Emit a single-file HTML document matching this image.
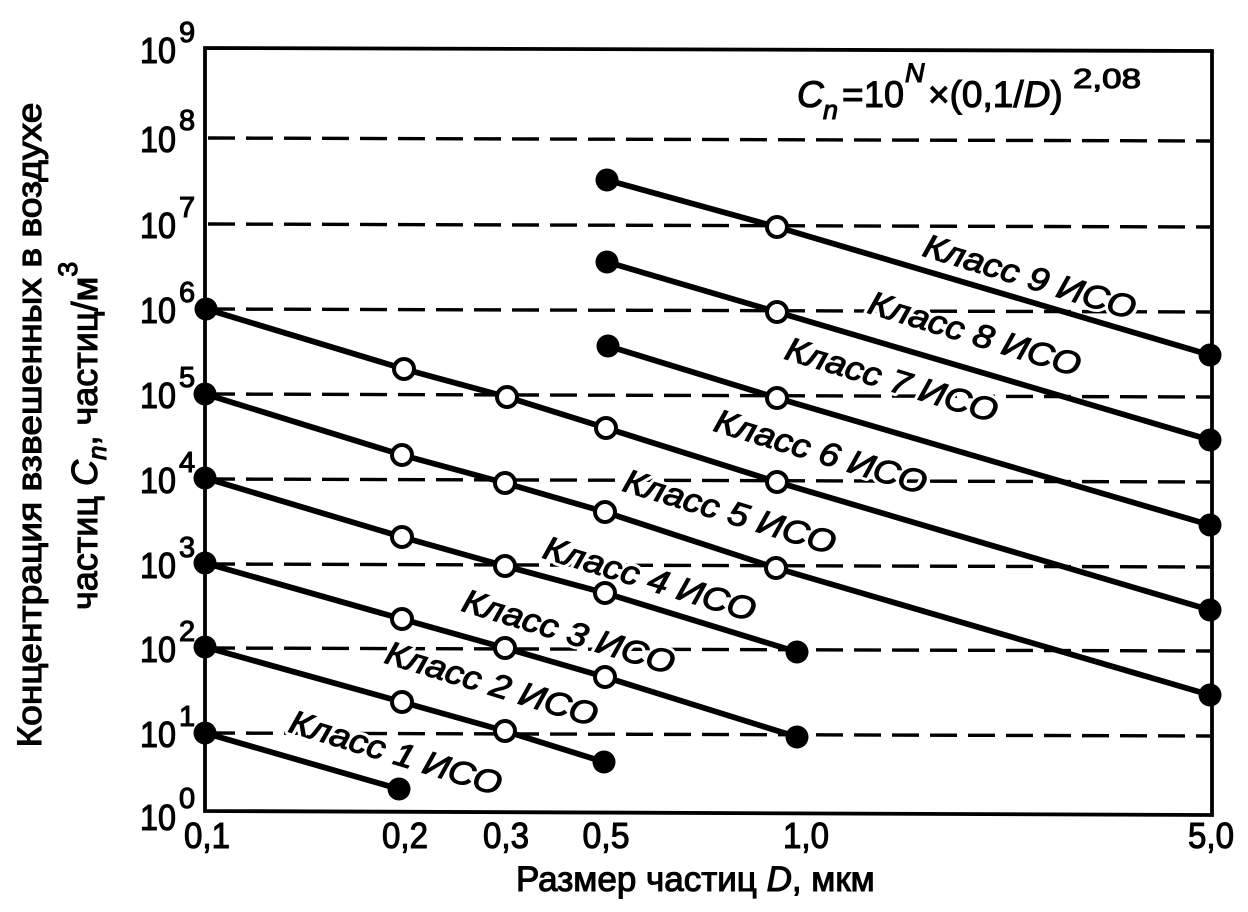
<!DOCTYPE html>
<html>
<head>
<meta charset="utf-8">
<style>
  html, body { margin:0; padding:0; background:#fff; }
  svg { display:block; }
  text { font-family: "Liberation Sans", "DejaVu Sans", sans-serif; fill:#000; }
  .bk { stroke:#000; stroke-width:1.1; }
</style>
</head>
<body>
<svg width="1248" height="912" viewBox="0 0 1248 912" xmlns="http://www.w3.org/2000/svg">
  <rect x="0" y="0" width="1248" height="912" fill="#fff"/>

  <!-- dashed gridlines -->
  <g stroke="#000" stroke-width="3.4" stroke-dasharray="27 11" fill="none">
    <line x1="208" y1="138" x2="1210" y2="141"/>
    <line x1="208" y1="224" x2="1210" y2="227"/>
    <line x1="208" y1="309" x2="1210" y2="312"/>
    <line x1="208" y1="394" x2="1210" y2="397"/>
    <line x1="208" y1="479" x2="1210" y2="482"/>
    <line x1="208" y1="564" x2="1210" y2="567"/>
    <line x1="208" y1="648" x2="1210" y2="651"/>
    <line x1="208" y1="733" x2="1210" y2="736"/>
  </g>

  <!-- axis box -->
  <path d="M205,48 L1212,51 L1212,815 L205,811 Z" fill="none" stroke="#000" stroke-width="3.8"/>

  <!-- class labels: white halo layer -->
  <g font-style="italic" font-size="33" text-anchor="middle" stroke="#fff" stroke-width="7" fill="#fff" stroke-linejoin="round">
    <text transform="translate(1030,276) rotate(17)" dy="12" textLength="220" lengthAdjust="spacingAndGlyphs" style="fill:#fff">Класс 9 ИСО</text>
    <text transform="translate(975,333) rotate(17)" dy="12" textLength="220" lengthAdjust="spacingAndGlyphs" style="fill:#fff">Класс 8 ИСО</text>
    <text transform="translate(892,379) rotate(17)" dy="12" textLength="220" lengthAdjust="spacingAndGlyphs" style="fill:#fff">Класс 7 ИСО</text>
    <text transform="translate(821,451) rotate(17)" dy="12" textLength="220" lengthAdjust="spacingAndGlyphs" style="fill:#fff">Класс 6 ИСО</text>
    <text transform="translate(730,511) rotate(17)" dy="12" textLength="220" lengthAdjust="spacingAndGlyphs" style="fill:#fff">Класс 5 ИСО</text>
    <text transform="translate(650,578) rotate(17)" dy="12" textLength="220" lengthAdjust="spacingAndGlyphs" style="fill:#fff">Класс 4 ИСО</text>
    <text transform="translate(569,631) rotate(17)" dy="12" textLength="220" lengthAdjust="spacingAndGlyphs" style="fill:#fff">Класс 3 ИСО</text>
    <text transform="translate(492,683) rotate(17)" dy="12" textLength="220" lengthAdjust="spacingAndGlyphs" style="fill:#fff">Класс 2 ИСО</text>
    <text transform="translate(396,752) rotate(17)" dy="12" textLength="220" lengthAdjust="spacingAndGlyphs" style="fill:#fff">Класс 1 ИСО</text>
  </g>
  <!-- class labels: black text -->
  <g font-style="italic" font-size="33" text-anchor="middle" class="bk">
    <text transform="translate(1030,276) rotate(17)" dy="12" textLength="220" lengthAdjust="spacingAndGlyphs">Класс 9 ИСО</text>
    <text transform="translate(975,333) rotate(17)" dy="12" textLength="220" lengthAdjust="spacingAndGlyphs">Класс 8 ИСО</text>
    <text transform="translate(892,379) rotate(17)" dy="12" textLength="220" lengthAdjust="spacingAndGlyphs">Класс 7 ИСО</text>
    <text transform="translate(821,451) rotate(17)" dy="12" textLength="220" lengthAdjust="spacingAndGlyphs">Класс 6 ИСО</text>
    <text transform="translate(730,511) rotate(17)" dy="12" textLength="220" lengthAdjust="spacingAndGlyphs">Класс 5 ИСО</text>
    <text transform="translate(650,578) rotate(17)" dy="12" textLength="220" lengthAdjust="spacingAndGlyphs">Класс 4 ИСО</text>
    <text transform="translate(569,631) rotate(17)" dy="12" textLength="220" lengthAdjust="spacingAndGlyphs">Класс 3 ИСО</text>
    <text transform="translate(492,683) rotate(17)" dy="12" textLength="220" lengthAdjust="spacingAndGlyphs">Класс 2 ИСО</text>
    <text transform="translate(396,752) rotate(17)" dy="12" textLength="220" lengthAdjust="spacingAndGlyphs">Класс 1 ИСО</text>
  </g>

  <!-- data lines -->
  <g stroke="#000" stroke-width="5.8" fill="none" stroke-linejoin="round" stroke-linecap="round">
    <polyline points="205,733 399,789"/>
    <polyline points="205,647 402,702 505,731 604,762"/>
    <polyline points="205,563 402,619 505,648 605,677 797,737"/>
    <polyline points="205,478 402,537 505,566 605,593 797,652"/>
    <polyline points="205,394 402,455 505,483 605,512 776,568 1210,695"/>
    <polyline points="206,309 404,369 507,397 606,428 777,482 1210,610"/>
    <polyline points="608,346 777,398 1210,525"/>
    <polyline points="607,262 777,312 1210,440"/>
    <polyline points="607,180 777,227 1210,355"/>
  </g>

  <!-- filled markers -->
  <g fill="#000">
    <circle cx="205" cy="733" r="11.5"/><circle cx="399" cy="789" r="11.5"/>
    <circle cx="205" cy="647" r="11.5"/><circle cx="604" cy="762" r="11.5"/>
    <circle cx="205" cy="563" r="11.5"/><circle cx="797" cy="737" r="11.5"/>
    <circle cx="205" cy="478" r="11.5"/><circle cx="797" cy="652" r="11.5"/>
    <circle cx="205" cy="394" r="11.5"/><circle cx="1210" cy="695" r="11.5"/>
    <circle cx="206" cy="309" r="11.5"/><circle cx="1210" cy="610" r="11.5"/>
    <circle cx="608" cy="346" r="11.5"/><circle cx="1210" cy="525" r="11.5"/>
    <circle cx="607" cy="262" r="11.5"/><circle cx="1210" cy="440" r="11.5"/>
    <circle cx="607" cy="180" r="11.5"/><circle cx="1210" cy="355" r="11.5"/>
  </g>

  <!-- open markers -->
  <g fill="#fff" stroke="#000" stroke-width="4">
    <circle cx="402" cy="702" r="10"/><circle cx="505" cy="731" r="10"/>
    <circle cx="402" cy="619" r="10"/><circle cx="505" cy="648" r="10"/><circle cx="605" cy="677" r="10"/>
    <circle cx="402" cy="537" r="10"/><circle cx="505" cy="566" r="10"/><circle cx="605" cy="593" r="10"/>
    <circle cx="402" cy="455" r="10"/><circle cx="505" cy="483" r="10"/><circle cx="605" cy="512" r="10"/><circle cx="776" cy="568" r="10"/>
    <circle cx="404" cy="369" r="10"/><circle cx="507" cy="397" r="10"/><circle cx="606" cy="428" r="10"/><circle cx="777" cy="482" r="10"/>
    <circle cx="777" cy="398" r="10"/>
    <circle cx="777" cy="312" r="10"/>
    <circle cx="777" cy="227" r="10"/>
  </g>

  <!-- formula -->
  <g font-size="37" class="bk">
    <text x="797" y="107" font-style="italic">C</text>
    <text x="823" y="119" font-size="27" font-style="italic">n</text>
    <text x="842" y="107">=</text>
    <text x="864" y="107" textLength="40" lengthAdjust="spacingAndGlyphs">10</text>
    <text x="905" y="82" font-size="27" font-style="italic">N</text>
    <text x="928" y="107">×(0,1/<tspan font-style="italic">D</tspan>)</text>
    <text x="1073" y="88" font-size="28" textLength="68" lengthAdjust="spacingAndGlyphs">2,08</text>
  </g>

  <!-- y tick labels -->
  <g font-size="36" class="bk">
    <text x="140" y="63" textLength="36" lengthAdjust="spacingAndGlyphs">10</text>
    <text x="140" y="152" textLength="36" lengthAdjust="spacingAndGlyphs">10</text>
    <text x="140" y="238" textLength="36" lengthAdjust="spacingAndGlyphs">10</text>
    <text x="140" y="323" textLength="36" lengthAdjust="spacingAndGlyphs">10</text>
    <text x="140" y="408" textLength="36" lengthAdjust="spacingAndGlyphs">10</text>
    <text x="140" y="493" textLength="36" lengthAdjust="spacingAndGlyphs">10</text>
    <text x="140" y="578" textLength="36" lengthAdjust="spacingAndGlyphs">10</text>
    <text x="140" y="662" textLength="36" lengthAdjust="spacingAndGlyphs">10</text>
    <text x="140" y="747" textLength="36" lengthAdjust="spacingAndGlyphs">10</text>
    <text x="140" y="830" textLength="36" lengthAdjust="spacingAndGlyphs">10</text>
  </g>
  <g font-size="29" class="bk">
    <text x="179" y="42">9</text>
    <text x="179" y="130">8</text>
    <text x="179" y="217">7</text>
    <text x="179" y="302">6</text>
    <text x="179" y="387">5</text>
    <text x="179" y="472">4</text>
    <text x="179" y="557">3</text>
    <text x="179" y="641">2</text>
    <text x="179" y="726">1</text>
    <text x="179" y="808">0</text>
  </g>

  <!-- x tick labels -->
  <g font-size="36" text-anchor="middle" class="bk">
    <text x="207" y="848" textLength="46" lengthAdjust="spacingAndGlyphs">0,1</text>
    <text x="405" y="848" textLength="46" lengthAdjust="spacingAndGlyphs">0,2</text>
    <text x="506" y="848" textLength="46" lengthAdjust="spacingAndGlyphs">0,3</text>
    <text x="606" y="848" textLength="47" lengthAdjust="spacingAndGlyphs">0,5</text>
    <text x="806" y="848" textLength="46" lengthAdjust="spacingAndGlyphs">1,0</text>
    <text x="1211" y="848" textLength="46" lengthAdjust="spacingAndGlyphs">5,0</text>
  </g>

  <!-- x axis title -->
  <text x="516" y="891" font-size="35" class="bk">Размер частиц <tspan font-style="italic">D</tspan>, мкм</text>

  <!-- y axis title -->
  <text transform="translate(41,425) rotate(-90)" text-anchor="middle" font-size="34" textLength="645" lengthAdjust="spacingAndGlyphs" class="bk">Концентрация взвешенных в воздухе</text>
  <text transform="translate(97,610) rotate(-90)" font-size="36" class="bk">частиц <tspan font-style="italic">C</tspan><tspan font-size="26" dy="9" font-style="italic">n</tspan><tspan dy="-9">, частиц/м</tspan><tspan font-size="27" dy="-20">3</tspan></text>
</svg>
</body>
</html>
